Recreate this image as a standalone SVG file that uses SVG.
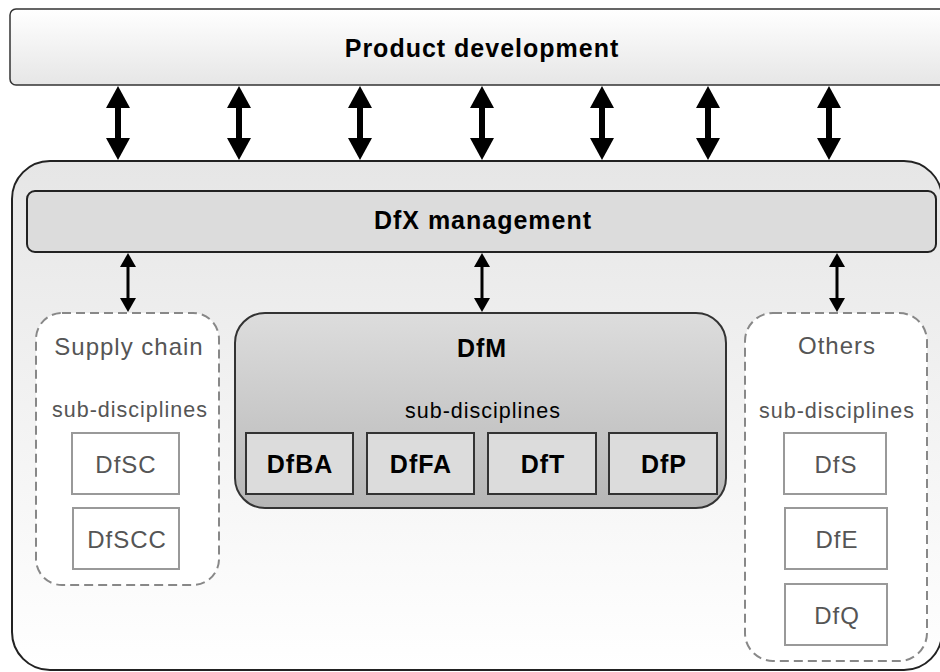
<svg xmlns="http://www.w3.org/2000/svg" width="940" height="672" viewBox="0 0 940 672">
<defs>
  <linearGradient id="gTop" x1="0" y1="0" x2="0" y2="1">
    <stop offset="0" stop-color="#ffffff"/>
    <stop offset="1" stop-color="#e6e6e6"/>
  </linearGradient>
  <linearGradient id="gOuter" x1="0" y1="0" x2="0" y2="1">
    <stop offset="0" stop-color="#e6e6e6"/>
    <stop offset="1" stop-color="#ffffff"/>
  </linearGradient>
  <linearGradient id="gDfm" x1="0" y1="0" x2="0" y2="1">
    <stop offset="0" stop-color="#dddddd"/>
    <stop offset="1" stop-color="#b6b6b6"/>
  </linearGradient>
  <marker id="bigHead" viewBox="0 0 22 24" markerWidth="22" markerHeight="24" markerUnits="userSpaceOnUse" refX="0" refY="12" orient="auto-start-reverse">
    <path d="M0,0 L22,12 L0,24 z" fill="#000"/>
  </marker>
  <marker id="smallHead" viewBox="0 0 14 16" markerWidth="14" markerHeight="16" markerUnits="userSpaceOnUse" refX="0" refY="8" orient="auto-start-reverse">
    <path d="M0,0 L14,8 L0,16 z" fill="#000"/>
  </marker>
</defs>
<style>
  .bold { font-family: "Liberation Sans", Arial, sans-serif; font-weight: bold; font-size: 25px; fill: #000; text-anchor: middle; letter-spacing: 1px; }
  .lite { font-family: "Liberation Sans", Arial, sans-serif; font-size: 24px; fill: #555; text-anchor: middle; letter-spacing: 1px; }
  .sub { font-family: "Liberation Sans", Arial, sans-serif; font-size: 21.5px; fill: #555; text-anchor: middle; letter-spacing: 1px; }
  .subdark { font-family: "Liberation Sans", Arial, sans-serif; font-size: 21.5px; fill: #000; text-anchor: middle; letter-spacing: 1px; }
  .dash { fill: #fff; stroke: #888; stroke-width: 2; stroke-dasharray: 9 5; }
  .lbox { fill: #fff; stroke: #999; stroke-width: 2; }
  .dbox { fill: #dcdcdc; stroke: #333; stroke-width: 2; }
  .big { stroke: #000; stroke-width: 6; marker-start: url(#bigHead); marker-end: url(#bigHead); }
  .small { stroke: #000; stroke-width: 3; marker-start: url(#smallHead); marker-end: url(#smallHead); }
</style>

<g id="product-development">
  <rect x="10" y="9" width="940" height="76" rx="6" fill="url(#gTop)" stroke="#333" stroke-width="1.5"/>
  <text class="bold" x="482" y="57">Product development</text>
</g>

<g id="dfx-container">
  <rect x="12" y="161" width="930" height="509" rx="38" fill="url(#gOuter)" stroke="#222" stroke-width="2"/>
</g>

<g id="dfx-management">
  <rect x="27" y="191" width="909" height="61" rx="8" fill="#dcdcdc" stroke="#222" stroke-width="2"/>
  <text class="bold" x="483" y="229">DfX management</text>
</g>

<g id="supply-chain">
  <rect class="dash" x="36" y="313" width="183" height="272" rx="26"/>
  <text class="lite" x="129" y="355">Supply chain</text>
  <text class="sub" x="130" y="417">sub-disciplines</text>
</g>
<g id="dfsc">
  <rect class="lbox" x="72" y="433" width="107" height="61"/>
  <text class="lite" x="126" y="473">DfSC</text>
</g>
<g id="dfscc">
  <rect class="lbox" x="73" y="508" width="106" height="61"/>
  <text class="lite" x="127" y="548">DfSCC</text>
</g>

<g id="dfm">
  <rect x="235" y="313" width="491" height="195" rx="30" fill="url(#gDfm)" stroke="#333" stroke-width="2"/>
  <text class="bold" x="482" y="357">DfM</text>
  <text class="subdark" x="483" y="418">sub-disciplines</text>
</g>
<g id="dfba">
  <rect class="dbox" x="246" y="433" width="107" height="61"/>
  <text class="bold" x="300" y="473">DfBA</text>
</g>
<g id="dffa">
  <rect class="dbox" x="367" y="433" width="107" height="61"/>
  <text class="bold" x="421" y="473">DfFA</text>
</g>
<g id="dft">
  <rect class="dbox" x="488" y="433" width="108" height="61"/>
  <text class="bold" x="543" y="473">DfT</text>
</g>
<g id="dfp">
  <rect class="dbox" x="609" y="433" width="108" height="61"/>
  <text class="bold" x="664" y="473">DfP</text>
</g>

<g id="others">
  <rect class="dash" x="745" y="313" width="182" height="348" rx="28"/>
  <text class="lite" x="837" y="354">Others</text>
  <text class="sub" x="837" y="418">sub-disciplines</text>
</g>
<g id="dfs">
  <rect class="lbox" x="784" y="433" width="102" height="61"/>
  <text class="lite" x="836" y="473">DfS</text>
</g>
<g id="dfe">
  <rect class="lbox" x="785" y="508" width="102" height="61"/>
  <text class="lite" x="837" y="548">DfE</text>
</g>
<g id="dfq">
  <rect class="lbox" x="785" y="584" width="102" height="61"/>
  <text class="lite" x="837" y="624">DfQ</text>
</g>

<g id="connectors">
  <line class="big" x1="118" y1="108" x2="118" y2="138"/>
  <line class="big" x1="239" y1="108" x2="239" y2="138"/>
  <line class="big" x1="360" y1="108" x2="360" y2="138"/>
  <line class="big" x1="482" y1="108" x2="482" y2="138"/>
  <line class="big" x1="602" y1="108" x2="602" y2="138"/>
  <line class="big" x1="708" y1="108" x2="708" y2="138"/>
  <line class="big" x1="829" y1="108" x2="829" y2="138"/>
  <line class="small" x1="128" y1="267" x2="128" y2="298"/>
  <line class="small" x1="482" y1="267" x2="482" y2="298"/>
  <line class="small" x1="837" y1="267" x2="837" y2="298"/>
</g>
</svg>
